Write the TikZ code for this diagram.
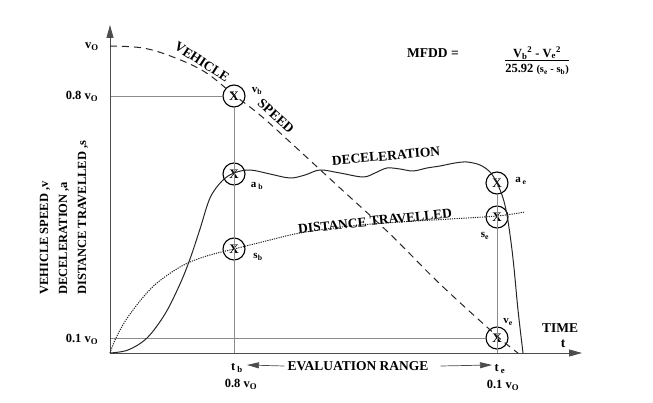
\documentclass[tikz,border=0pt]{standalone}
\usepackage{fontspec}
\setmainfont{Liberation Serif}
\usetikzlibrary{arrows.meta}
\begin{document}
\begin{tikzpicture}[x=1pt,y=-1pt,
  lbl/.style={font=\bfseries\fontsize{12.5}{14}\selectfont, inner sep=0pt},
  clbl/.style={font=\bfseries\fontsize{13.5}{15}\selectfont, inner sep=0pt},
  slbl/.style={font=\bfseries\fontsize{11}{13}\selectfont, inner sep=0pt},
  xcirc/.style={circle, draw, line width=1.1pt, minimum size=22pt, inner sep=0pt, font=\bfseries\fontsize{13}{12}\selectfont},
  gridline/.style={draw=black!45, line width=0.5pt},
  axisline/.style={line width=0.9pt, draw=black!70, -{Triangle[length=13pt,width=7pt]}},
  evarrow/.style={line width=0.7pt, draw=black!70, -{Triangle[length=12pt,width=6pt]}},
  curve/.style={line width=1pt, draw=black!85},
]
\useasboundingbox (0,0) rectangle (653,403);

% axes
\coordinate (O) at (110,353);
\coordinate (ytop) at (110,25);
\coordinate (xend) at (582,353);
\coordinate (y08) at (110,96);
\coordinate (y01) at (110,338);
\coordinate (tbx) at (234,353);
\coordinate (tex) at (497,353);

% marker circles
\node[xcirc] (vb) at (234,96) {X};
\node[xcirc] (ab) at (234,174) {X};
\node[xcirc] (sb) at (234,249) {X};
\node[xcirc] (ae) at (497,183) {X};
\node[xcirc] (se) at (497,217) {X};
\node[xcirc] (ve) at (497,338) {X};

% grid lines
\draw[gridline] (y08) -- (vb.west);
\draw[gridline] (vb.south) -- (tbx);
\draw[gridline] (y01) -- (ve.west);
\draw[gridline] (ae.south) -- (tex);

\draw[axisline] (O) -- (ytop);
\draw[axisline] (O) -- (xend);

% vehicle speed (dashed)
\draw[curve, dash pattern=on 7pt off 5pt] plot[smooth, tension=0.6] coordinates {
 (110,46) (143,48) (173,57) (205,72) (234,95) (260,115) (290,142) (340,188) (390,234) (440,284) (497,336) (518,353)};

% deceleration (solid)
\draw[curve] plot[smooth, tension=0.55] coordinates {
 (110,353) (128,350) (147,338) (165,314) (180,284) (190,259) (200,229) (210,198) (222,181) (234,173)
 (250,170) (270,174) (290,178) (305,175) (320,170) (340,173) (363,177) (375,173) (387,168) (400,169)
 (413,171) (427,168) (440,166) (455,163) (467,162) (480,165) (490,172) (497,183) (503,198) (507,215)
 (511,242) (514,268) (518,310) (523,353)};

% distance travelled (dotted)
\draw[curve, line width=1pt, dash pattern=on 1.2pt off 1.1pt] plot[smooth, tension=0.55] coordinates {
 (110,353) (115,340) (124,323) (133,310) (145,295) (157,283) (175,270) (190,262) (210,255) (234,249)
 (270,240) (300,233) (350,226) (400,222) (450,219) (497,216) (525,212)};

% axis labels
\node[lbl] (lv0) at (92,47) {v\textsubscript{O}};
\node[lbl] (lv08) at (82,96) {0.8 v\textsubscript{O}};
\node[lbl] (lv01) at (82,339) {0.1 v\textsubscript{O}};
\node[rotate=90, anchor=west, align=left, inner sep=0pt,
      font=\bfseries\fontsize{12.5}{19}\selectfont] (ylab) at (64,295)
      {VEHICLE SPEED ,v\\DECELERATION ,a\\DISTANCE TRAVELLED ,s};

\node[clbl] (time) at (560,328) {TIME};
\node[clbl] (tt) at (563,344) {t};

% point labels
\node[slbl] (lvb) at (257,91) {v\textsubscript{b}};
\node[slbl] (lab) at (257,186) {a\,\textsubscript{b}};
\node[slbl] (lsb) at (258,257) {s\textsubscript{b}};
\node[slbl] (lae) at (521,181) {a\,\textsubscript{e}};
\node[slbl] (lse) at (485,236) {s\textsubscript{e}};
\node[slbl] (lve) at (508,322) {v\textsubscript{e}};

% curve labels
\node[clbl, rotate=-33] (tveh) at (202,62) {VEHICLE};
\node[clbl, rotate=-42] (tspd) at (276,116) {SPEED};
\node[clbl, rotate=5] (tdec) at (386,156) {DECELERATION};
\node[clbl, rotate=6] (tdist) at (375,221) {DISTANCE TRAVELLED};

% time labels
\node[lbl] (ltb) at (237,368) {t\,\textsubscript{b}};
\node[lbl] (ltb2) at (241,384) {0.8 v\textsubscript{O}};
\node[lbl] (lte) at (500,369) {t\,\textsubscript{e}};
\node[lbl] (lte2) at (503,385) {0.1 v\textsubscript{O}};

% evaluation range
\node[clbl] (eval) at (358,366) {EVALUATION RANGE};
\coordinate (evl) at (247,365);
\coordinate (evr) at (492,365);
\draw[evarrow] ([xshift=-3pt]eval.west) -- (evl);
\draw[evarrow] ([xshift=12pt]eval.east) -- (evr);

% formula
\node[clbl] (mfdd) at (433,53) {MFDD =};
\node[lbl] (frac) at (537,62) {\begin{tabular}{@{}c@{}}
 V\textsubscript{b}\textsuperscript{2} - V\textsubscript{e}\textsuperscript{2}\\[-1pt] \hline
 \rule{0pt}{12pt}25.92 {\fontsize{10.5}{12}\selectfont(s\textsubscript{e} - s\textsubscript{b})}
 \end{tabular}};
\end{tikzpicture}
\end{document}
